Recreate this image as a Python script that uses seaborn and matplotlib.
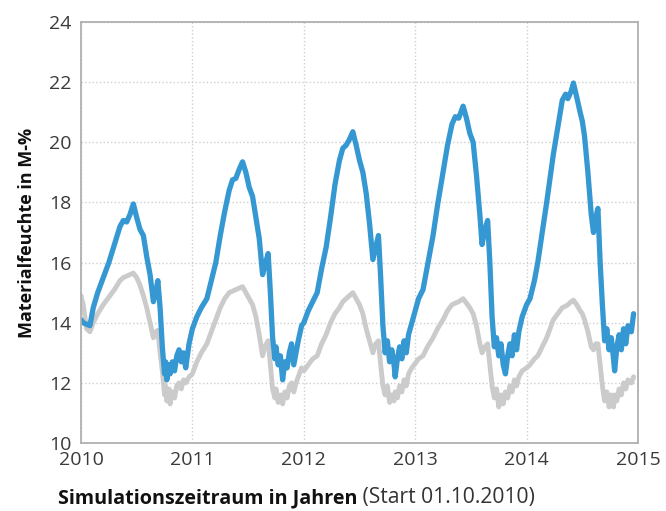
import numpy as np
import pandas as pd
import matplotlib
matplotlib.use("Agg")
from matplotlib import pyplot as plt
import seaborn as sns

# Zeit in Jahren (Start 01.10.2010 -> 2010.0)
t_2010 = [2010.00, 2010.02, 2010.05, 2010.08, 2010.11, 2010.15, 2010.20, 2010.25, 2010.30, 2010.35,
          2010.38, 2010.41, 2010.44, 2010.47, 2010.50, 2010.53, 2010.56, 2010.59, 2010.62, 2010.65,
          2010.67, 2010.69, 2010.71, 2010.73, 2010.75, 2010.76, 2010.77, 2010.79, 2010.80, 2010.82,
          2010.84, 2010.86, 2010.88, 2010.90, 2010.92, 2010.94, 2010.97]
blue_2010 = [14.1, 14.0, 13.95, 13.9, 14.5, 15.0, 15.5, 16.0, 16.6, 17.2,
             17.4, 17.35, 17.6, 17.95, 17.5, 17.1, 16.9, 16.2, 15.6, 14.7,
             15.0, 15.4, 14.5, 13.2, 12.3, 12.7, 12.1, 12.6, 12.3, 12.7,
             12.4, 12.9, 13.1, 12.7, 13.0, 12.5, 13.3]
gray_2010 = [14.9, 14.6, 13.8, 13.7, 14.0, 14.3, 14.6, 14.85, 15.1, 15.4,
             15.5, 15.55, 15.6, 15.65, 15.5, 15.25, 14.9, 14.5, 14.0, 13.5,
             13.7, 13.75, 13.0, 12.4, 11.6, 11.9, 11.4, 11.8, 11.3, 11.7,
             11.5, 11.9, 12.0, 11.8, 12.1, 12.0, 12.2]

t_2011 = [2011.00, 2011.04, 2011.08, 2011.13, 2011.17, 2011.21, 2011.25, 2011.29, 2011.33, 2011.36,
          2011.39, 2011.42, 2011.45, 2011.48, 2011.51, 2011.54, 2011.57, 2011.60, 2011.63, 2011.65,
          2011.68, 2011.70, 2011.72, 2011.74, 2011.75, 2011.77, 2011.79, 2011.81, 2011.83, 2011.85,
          2011.87, 2011.89, 2011.91, 2011.93, 2011.95, 2011.98]
blue_2011 = [13.8, 14.2, 14.5, 14.8, 15.4, 16.0, 16.9, 17.7, 18.4, 18.75,
             18.8, 19.1, 19.35, 19.0, 18.5, 18.2, 17.5, 16.8, 15.6, 15.9,
             16.3, 15.0, 13.5, 12.8, 13.2, 12.6, 12.9, 12.1, 12.7, 12.5,
             13.0, 13.3, 12.6, 13.0, 13.4, 13.9]
gray_2011 = [12.3, 12.7, 13.0, 13.3, 13.7, 14.1, 14.5, 14.8, 15.0, 15.05,
             15.1, 15.15, 15.2, 15.0, 14.8, 14.6, 14.2, 13.6, 12.9, 13.2,
             13.4, 12.6, 11.8, 11.5, 11.8, 11.35, 11.6, 11.3, 11.7, 11.5,
             11.9, 12.0, 11.7, 12.0, 12.2, 12.5]

t_2012 = [2012.00, 2012.04, 2012.08, 2012.12, 2012.16, 2012.20, 2012.24, 2012.28, 2012.32, 2012.35,
          2012.38, 2012.41, 2012.44, 2012.47, 2012.50, 2012.53, 2012.56, 2012.59, 2012.62, 2012.645,
          2012.67, 2012.69, 2012.71, 2012.73, 2012.75, 2012.77, 2012.79, 2012.81, 2012.82, 2012.84,
          2012.86, 2012.88, 2012.90, 2012.92, 2012.94, 2012.97]
blue_2012 = [14.0, 14.4, 14.7, 15.0, 15.8, 16.5, 17.5, 18.6, 19.4, 19.8,
             19.9, 20.1, 20.35, 19.9, 19.4, 19.0, 18.3, 17.3, 16.1, 16.5,
             16.9, 15.5, 13.9, 13.0, 13.4, 12.7, 13.1, 12.6, 12.2, 12.8,
             13.2, 12.8, 13.4, 13.0, 13.6, 14.0]
gray_2012 = [12.4, 12.6, 12.8, 12.9, 13.3, 13.6, 14.0, 14.3, 14.5, 14.7,
             14.8, 14.9, 15.0, 14.8, 14.6, 14.3, 13.8, 13.4, 13.0, 13.3,
             13.4, 12.6, 11.9, 11.6, 11.9, 11.35, 11.6, 11.4, 11.7, 11.5,
             11.9, 11.7, 12.1, 11.9, 12.3, 12.5]

t_2013 = [2013.00, 2013.03, 2013.07, 2013.11, 2013.16, 2013.20, 2013.25, 2013.29, 2013.33, 2013.36,
          2013.39, 2013.41, 2013.43, 2013.46, 2013.49, 2013.52, 2013.55, 2013.58, 2013.60, 2013.625,
          2013.65, 2013.67, 2013.69, 2013.71, 2013.73, 2013.75, 2013.77, 2013.79, 2013.81, 2013.83,
          2013.85, 2013.87, 2013.89, 2013.91, 2013.93, 2013.96]
blue_2013 = [14.4, 14.8, 15.1, 15.9, 16.9, 17.9, 19.0, 19.9, 20.6, 20.85,
             20.8, 21.0, 21.2, 20.8, 20.3, 20.0, 18.9, 17.6, 16.6, 17.1,
             17.4, 16.0, 14.2, 13.2, 13.5, 12.9, 13.3, 12.6, 12.3, 12.9,
             13.3, 12.9, 13.6, 13.1, 13.7, 14.2]
gray_2013 = [12.65, 12.8, 12.9, 13.2, 13.5, 13.8, 14.1, 14.4, 14.6, 14.65,
             14.7, 14.75, 14.8, 14.65, 14.5, 14.3, 13.9, 13.3, 13.0, 13.2,
             13.3, 12.6, 11.9, 11.5, 11.8, 11.2, 11.6, 11.3, 11.7, 11.5,
             11.9, 11.7, 12.1, 11.9, 12.2, 12.4]

t_2014 = [2014.00, 2014.03, 2014.07, 2014.10, 2014.14, 2014.18, 2014.21, 2014.24, 2014.28, 2014.32,
          2014.35, 2014.37, 2014.40, 2014.42, 2014.45, 2014.48, 2014.50, 2014.52, 2014.55, 2014.58,
          2014.60, 2014.62, 2014.64, 2014.66, 2014.68, 2014.70, 2014.72, 2014.74, 2014.76, 2014.78,
          2014.79, 2014.81, 2014.83, 2014.85, 2014.87, 2014.89, 2014.91, 2014.94, 2014.96]
blue_2014 = [14.6, 14.8, 15.4, 16.0, 17.0, 18.0, 18.8, 19.6, 20.5, 21.4,
             21.6, 21.45, 21.7, 21.97, 21.5, 21.0, 20.7, 20.2, 19.0, 17.6,
             17.0, 17.5, 17.8, 16.0, 14.6, 13.4, 13.8, 13.1, 13.5, 12.8,
             12.4, 13.2, 13.6, 13.1, 13.8, 13.3, 13.9, 13.7, 14.3]
gray_2014 = [12.5, 12.6, 12.8, 12.9, 13.2, 13.5, 13.8, 14.1, 14.3, 14.5,
             14.55, 14.6, 14.7, 14.75, 14.6, 14.4, 14.3, 14.1, 13.7, 13.2,
             13.1, 13.3, 13.3, 12.6, 11.9, 11.4, 11.7, 11.2, 11.6, 11.2,
             11.6, 11.4, 11.8, 11.6, 12.0, 11.8, 12.1, 12.0, 12.2]

years = t_2010 + t_2011 + t_2012 + t_2013 + t_2014
blue = blue_2010 + blue_2011 + blue_2012 + blue_2013 + blue_2014
gray = gray_2010 + gray_2011 + gray_2012 + gray_2013 + gray_2014

x_ticks = [2010, 2011, 2012, 2013, 2014, 2015]
y_ticks = [10, 12, 14, 16, 18, 20, 22, 24]

df = pd.DataFrame({"Jahr": years, "blau": blue, "grau": gray})

sns.set_theme(style="whitegrid")
plt.rcParams['font.family'] = ['Open Sans', 'DejaVu Sans']

fig = plt.figure(figsize=(6.66, 5.11), dpi=100)
ax = fig.add_axes([0.1216, 0.133, 0.8364, 0.824])

sns.lineplot(data=df, x="Jahr", y="grau", color="#cbcbcb", linewidth=3.5,
             sort=False, estimator=None, ax=ax)
sns.lineplot(data=df, x="Jahr", y="blau", color="#3598d3", linewidth=3.8,
             sort=False, estimator=None, ax=ax)

ax.set_xlim(2010, 2015)
ax.set_ylim(10, 24)
ax.set_xticks(x_ticks)
ax.set_yticks(y_ticks)
ax.set_xticklabels([str(v) for v in x_ticks], fontsize=14, color="#3a3a3a")
ax.set_yticklabels([str(v) for v in y_ticks], fontsize=14, color="#3a3a3a")
ax.tick_params(axis="x", length=0, pad=6)
ax.tick_params(axis="y", length=0, pad=7)

ax.grid(True, linestyle=":", color="#cfcfcf", linewidth=1.0)
for side in ax.spines.values():
    side.set_visible(True)
    side.set_color("#b0b0b0")
    side.set_linewidth(1.3)

ax.set_xlabel("")
ax.set_ylabel("Materialfeuchte in M-%", fontsize=13, fontweight="bold", color="#111111", labelpad=9)

# x-Beschriftung: fetter Teil + normaler Teil
lab1 = fig.text(0.087, 0.015, "Simulationszeitraum in Jahren", fontsize=14.2,
                fontweight="bold", color="#111111", va="baseline")
ax.annotate(" (Start 01.10.2010)", xy=(1, 0), xycoords=lab1, va="bottom",
            fontsize=15.2, color="#333333")

fig.savefig("out.png", dpi=100)
